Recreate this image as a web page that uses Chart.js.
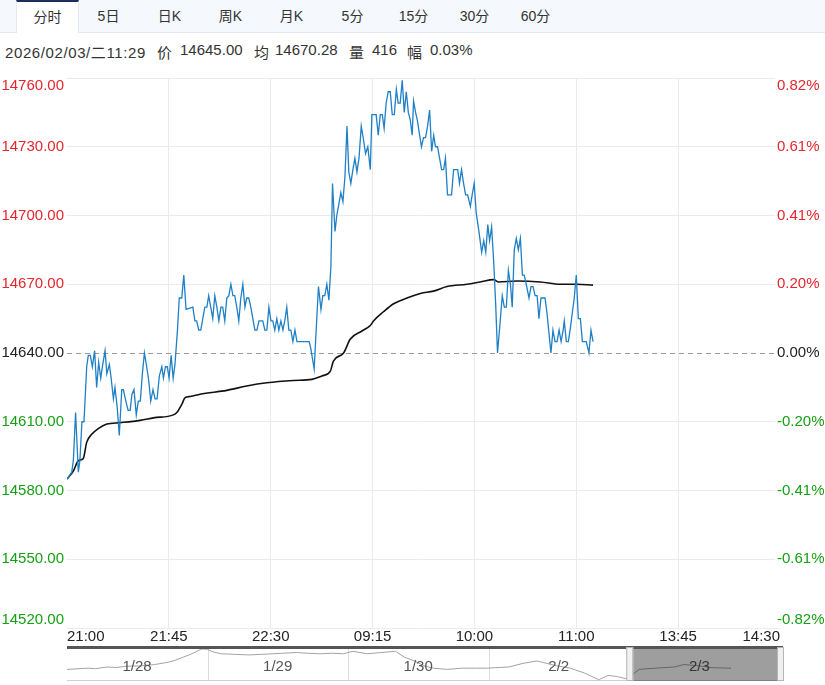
<!DOCTYPE html>
<html>
<head>
<meta charset="utf-8">
<script src="https://cdn.jsdelivr.net/npm/chart.js@4.4.1/dist/chart.umd.min.js"></script>
<style>
  body { margin: 0; width: 825px; height: 685px; overflow: hidden; position: relative; background: #fff;
         font-family: "Liberation Sans", "Noto Sans CJK SC", sans-serif; color: #333; }
  .tabs { position: absolute; left: 0; top: 0; width: 825px; height: 32px; background: #f5f8fc; border-bottom: 1px solid #e3e8ef; }
  .tab { position: absolute; top: 0; width: 61px; height: 32px; line-height: 33px; text-align: center; font-size: 14px; color: #333; }
  .tab.on { background: #fff; border-top: 2px solid #1b2f5f; border-left: 1px solid #e3e8ef; border-right: 1px solid #e3e8ef;
            height: 31px; line-height: 31px; margin-left: -1px; }
  .info span { position: absolute; top: 41px; font-size: 15px; white-space: pre; color: #333; }
  .info span:first-child { letter-spacing: 0.6px; }
  #main { position: absolute; left: 0; top: 70px; }
  #nav { position: absolute; left: 0; top: 640px; }
</style>
</head>
<body>
<div class="tabs" id="tabs"></div>
<div class="info" id="info"></div>
<canvas id="main" width="825" height="575"></canvas>
<canvas id="nav" width="825" height="45"></canvas>
<script>
const tabNames = ['分时', '5日', '日K', '周K', '月K', '5分', '15分', '30分', '60分'];
const infoParts = ['2026/02/03/二11:29', '价', '14645.00', '均', '14670.28', '量', '416', '幅', '0.03%'];
const infoLeft = [5, 157, 180, 254, 275, 349, 372, 407, 430];

const timeTicks = [0, 45, 90, 135, 180, 225, 270, 315];
const timeLabels = ['21:00', '21:45', '22:30', '09:15', '10:00', '11:00', '13:45', '14:30'];
const priceTicks = [14520, 14550, 14580, 14610, 14640, 14670, 14700, 14730, 14760];
const pctTicks = ['-0.82%', '-0.61%', '-0.41%', '-0.20%', '0.00%', '0.20%', '0.41%', '0.61%', '0.82%'];
const prevClose = 14640;

// minutes since 21:00 (trading time) and last price
const priceMin = [
  0, 2.1, 2.8, 3.8, 5.0, 5.7, 6.6, 7.5, 8.7, 9.4,
  10.3, 11.2, 12.2, 13.1, 14.0, 14.9, 15.8, 16.8, 17.6, 18.7,
  19.5, 20.5, 21.2, 22.2, 23.1, 24.2, 24.9, 26.0, 27.0, 27.9,
  28.7, 29.6, 30.6, 31.5, 32.4, 33.3, 34.2, 35.2, 36.1, 37.0,
  38.0, 38.9, 39.8, 40.8, 41.9, 42.6, 43.5, 44.3, 45.1, 46.0,
  46.9, 47.7, 48.8, 49.6, 50.7, 51.6, 52.6, 55.6, 56.5, 57.3,
  58.2, 59.1, 60.0, 60.9, 61.8, 62.6, 63.5, 64.4, 65.3, 66.2,
  67.1, 68.0, 68.8, 69.7, 70.6, 71.5, 72.4, 73.3, 74.1, 75.0,
  75.9, 76.8, 77.7, 78.6, 79.4, 80.3, 81.2, 82.1, 83.0, 83.9,
  84.8, 85.6, 86.5, 87.4, 88.3, 89.2, 90.1, 90.9, 91.8, 92.7,
  93.6, 94.5, 95.4, 96.2, 97.1, 98.0, 98.9, 99.8, 100.7, 101.6,
  107.0, 107.7, 109.2, 110.4, 111.1, 112.2, 113.0, 113.9, 114.8, 115.7,
  116.6, 117.3, 118.4, 119.2, 120.1, 121.0, 121.9, 122.8, 123.7, 124.5,
  125.4, 126.3, 127.2, 128.1, 129.0, 130.0, 131.0, 131.9, 132.9, 134.0,
  134.7, 135.7, 136.6, 137.5, 138.4, 139.3, 140.1, 141.0, 141.9, 142.8,
  143.7, 144.6, 145.5, 146.3, 147.2, 148.1, 149.0, 149.9, 150.8, 151.6,
  152.5, 153.1, 154.0, 154.9, 155.8, 156.6, 157.5, 158.4, 159.3, 160.2,
  161.1, 162.0, 162.8, 163.7, 164.6, 165.5, 166.4, 167.2, 168.1, 169.0,
  169.9, 170.8, 171.7, 172.6, 173.4, 174.3, 175.2, 176.1, 177.0, 178.2,
  179.0, 179.9, 180.8, 182.0, 183.2, 184.1, 185.0, 185.9, 186.7, 187.6,
  188.5, 189.4, 190.2, 191.4, 192.3, 193.2, 194.1, 195.0, 195.9, 196.7,
  197.6, 198.5, 199.4, 200.3, 201.2, 202.0, 202.9, 204.1, 205.0, 205.9,
  206.8, 207.7, 208.5, 209.4, 210.3, 211.2, 212.1, 213.0, 213.8, 214.7,
  215.6, 216.5, 217.4, 218.3, 219.2, 219.7, 220.6, 221.5, 222.4, 223.3,
  224.1, 225.0, 225.9, 226.8, 227.7, 228.6, 229.4, 230.6, 231.5, 232.4
];
const priceVal = [
  14585, 14588, 14593, 14614, 14588, 14593, 14610, 14610, 14634, 14639,
  14639, 14634, 14641, 14625, 14636, 14629, 14635, 14641, 14631, 14635,
  14629, 14620, 14625, 14616, 14604, 14624, 14624, 14619, 14615, 14615,
  14622, 14624, 14613, 14619, 14619, 14631, 14640, 14634, 14628, 14619,
  14624, 14620, 14620, 14630, 14634, 14629, 14634, 14634, 14629, 14639,
  14629, 14635, 14650, 14664, 14664, 14674, 14659, 14660, 14654, 14654,
  14650, 14650, 14655, 14660, 14660, 14665, 14660, 14655, 14665, 14660,
  14654, 14660, 14660, 14654, 14664, 14665, 14670, 14665, 14665, 14660,
  14654, 14664, 14670, 14660, 14664, 14664, 14660, 14655, 14650, 14650,
  14654, 14654, 14654, 14650, 14650, 14660, 14654, 14654, 14650, 14655,
  14650, 14654, 14650, 14654, 14660, 14650, 14650, 14645, 14650, 14645,
  14645, 14642, 14633, 14656, 14669, 14659, 14665, 14665, 14670, 14663,
  14678, 14714, 14693, 14700, 14705, 14710, 14706, 14717, 14739, 14719,
  14714, 14720, 14725, 14719, 14725, 14739, 14733, 14727, 14730, 14720,
  14744, 14744, 14744, 14735, 14744, 14744, 14738, 14749, 14754, 14754,
  14744, 14744, 14755, 14749, 14749, 14759, 14745, 14754, 14745, 14742,
  14735, 14750, 14745, 14741, 14735, 14730, 14734, 14734, 14739, 14746,
  14728, 14735, 14730, 14730, 14725, 14720, 14720, 14725, 14709, 14709,
  14709, 14720, 14720, 14720, 14714, 14720, 14714, 14709, 14709, 14704,
  14709, 14714, 14701, 14693, 14684, 14689, 14684, 14696, 14689, 14695,
  14680, 14661, 14640, 14654, 14665, 14660, 14660, 14676, 14670, 14660,
  14685, 14690, 14685, 14690, 14674, 14674, 14670, 14664, 14669, 14669,
  14665, 14665, 14655, 14664, 14664, 14664, 14657, 14648, 14640, 14650,
  14645, 14645, 14650, 14645, 14650, 14654, 14645, 14645, 14651, 14658,
  14664, 14674, 14655, 14655, 14645, 14645, 14645, 14640, 14650, 14645
];

// average price line
const avgMin = [0, 2.8, 5.0, 7.2, 8.7, 10.9, 13.8, 17.6, 23.4, 32.3, 38.2, 47.0, 48.5, 50.7, 52.2, 54.4, 58.8, 70.6,
  79.4, 88.3, 100.0, 108.2, 112.6, 116.3, 117.7, 122.2, 125.1, 130.3, 134.0, 135.4, 139.8, 144.3, 150.2,
  156.1, 161.9, 167.9, 176.7, 182.6, 188.5, 190.7, 198.8, 209.1, 217.9, 225.3, 232.4];
const avgVal = [14585, 14588.5, 14593, 14594, 14601, 14604.5, 14607, 14609, 14609.6, 14610.6, 14611.7, 14613, 14614,
  14617.6, 14620.5, 14621, 14622, 14623.7, 14625.6, 14627, 14628, 14628.5, 14630, 14632, 14636.5, 14640, 14646,
  14649.6, 14652, 14654, 14658, 14661.5, 14664, 14666, 14667, 14669, 14670, 14671, 14672, 14671, 14671.4, 14671,
  14670, 14670, 14669.6];

// navigator: five sessions, 345 trading minutes each
const navDays = ['1/28', '1/29', '1/30', '2/2', '2/3'];
const navMin = [0, 52, 70, 99, 120, 145, 180, 215, 249, 265, 284, 300, 319, 331, 345, 354, 377, 410, 447, 480,
  505, 530, 563, 590, 621, 650, 679, 690, 702, 737, 771, 806, 829, 853, 876, 899, 934, 969, 1003, 1032,
  1050, 1085, 1119, 1154, 1177, 1201, 1235, 1270, 1305, 1328, 1351, 1375, 1404, 1444, 1491, 1514, 1549, 1583, 1630];
const navVal = [14572, 14616, 14600, 14660, 14640, 14686, 14700, 14748, 14835, 14900, 15010, 15100, 15229, 15316, 15299, 15229, 15141, 15120, 15098, 15120,
  15141, 15160, 15185, 15160, 15141, 15160, 15141, 15185, 15229, 15141, 15185, 15229, 15010, 14879, 14704, 14616, 14572, 14616, 14616, 14616,
  14634, 14660, 14791, 14879, 14791, 14704, 14616, 14441, 14196, 14354, 14310, 14222, 14572, 14616, 14660, 14748, 14704, 14634, 14616];

const FONT = '"Liberation Sans", "Noto Sans CJK SC", sans-serif';
const RED = '#e3262d', GREEN = '#16a016';

const tabs = document.getElementById('tabs');
tabNames.forEach((t, i) => {
  const d = document.createElement('div');
  d.className = 'tab' + (i === 0 ? ' on' : '');
  d.style.left = (17 + i * 61) + 'px';
  d.textContent = t;
  tabs.appendChild(d);
});
const info = document.getElementById('info');
infoParts.forEach((t, i) => {
  const s = document.createElement('span');
  s.style.left = infoLeft[i] + 'px';
  s.textContent = t;
  info.appendChild(s);
});

const axisLabels = {
  id: 'axisLabels',
  beforeDatasetsDraw(chart) {
    const { ctx, chartArea, scales: { y } } = chart;
    const yp = Math.round(y.getPixelForValue(prevClose)) + 0.5;
    ctx.save();
    ctx.strokeStyle = '#9a9a9a';
    ctx.lineWidth = 1;
    ctx.setLineDash([5, 4]);
    ctx.beginPath();
    ctx.moveTo(chartArea.left, yp);
    ctx.lineTo(chartArea.right - 5, yp);
    ctx.stroke();
    ctx.restore();
  },
  afterDraw(chart) {
    const { ctx, chartArea, scales: { y } } = chart;
    ctx.save();
    ctx.fillStyle = '#fff';
    ctx.fillRect(chartArea.right - 5, chartArea.top - 8, chart.width, chartArea.bottom - chartArea.top + 8);
    ctx.font = '15px ' + FONT;
    ctx.textBaseline = 'middle';
    priceTicks.forEach((v, i) => {
      let py = y.getPixelForValue(v);
      py = Math.max(chartArea.top + 8, Math.min(chartArea.bottom - 8.5, py));
      ctx.fillStyle = v > prevClose ? RED : (v < prevClose ? GREEN : '#222');
      ctx.textAlign = 'right';
      ctx.fillText(v.toFixed(2), y.right - 3, py);
      ctx.textAlign = 'left';
      ctx.fillText(pctTicks[i], chartArea.right - 3, py);
    });
    ctx.restore();
  }
};

new Chart(document.getElementById('main'), {
  type: 'line',
  data: {
    datasets: [
      {
        data: priceMin.map((m, i) => ({ x: m, y: priceVal[i] })),
        borderColor: '#1f80c6',
        borderWidth: 1.3,
        pointRadius: 0,
        tension: 0
      },
      {
        data: avgMin.map((m, i) => ({ x: m, y: avgVal[i] })),
        borderColor: '#111',
        borderWidth: 1.6,
        pointRadius: 0,
        cubicInterpolationMode: 'monotone'
      }
    ]
  },
  options: {
    responsive: false,
    animation: false,
    layout: { padding: { top: 8 } },
    plugins: { legend: { display: false }, tooltip: { enabled: false } },
    scales: {
      x: {
        type: 'linear',
        min: 0,
        max: 315,
        afterBuildTicks: (s) => { s.ticks = timeTicks.map(v => ({ value: v })); },
        ticks: {
          align: 'inner',
          autoSkip: false,
          maxRotation: 0,
          padding: 0,
          color: '#222',
          font: { size: 15, family: FONT },
          callback: (v) => timeLabels[timeTicks.indexOf(v)]
        },
        grid: {
          drawTicks: false,
          color: (c) => (c.index === 0 || c.index === timeTicks.length - 1) ? 'rgba(0,0,0,0)' : '#ebebeb'
        },
        border: { display: false },
        afterFit: (s) => { s.height = 17; }
      },
      y: {
        position: 'left',
        min: 14520,
        max: 14760,
        afterBuildTicks: (s) => { s.ticks = priceTicks.map(v => ({ value: v })); },
        ticks: { display: false },
        grid: {
          drawTicks: false,
          color: (c) => c.tick && c.tick.value === prevClose ? 'rgba(0,0,0,0)' : '#ebebeb'
        },
        border: { display: false },
        afterFit: (s) => { s.width = 67; }
      },
      yr: {
        position: 'right',
        min: 14520,
        max: 14760,
        ticks: { display: false },
        grid: { display: false },
        border: { display: false },
        afterFit: (s) => { s.width = 45; }
      }
    }
  },
  plugins: [axisLabels]
});

const navDecor = {
  id: 'navDecor',
  beforeDatasetsDraw(chart) {
    const { ctx, chartArea: a, scales: { x } } = chart;
    ctx.save();
    ctx.strokeStyle = '#dcdcdc';
    ctx.lineWidth = 1;
    for (let d = 1; d < navDays.length; d++) {
      const px = Math.round(x.getPixelForValue(d * 345)) + 0.5;
      ctx.beginPath();
      ctx.moveTo(px, a.top);
      ctx.lineTo(px, a.bottom);
      ctx.stroke();
    }
    ctx.strokeStyle = '#cfcfcf';
    ctx.beginPath();
    ctx.moveTo(a.left, a.bottom - 0.5);
    ctx.lineTo(a.right + 3, a.bottom - 0.5);
    ctx.stroke();
    ctx.restore();
  },
  afterDatasetsDraw(chart) {
    const { ctx, chartArea: a, scales: { x } } = chart;
    ctx.save();
    ctx.font = '15px ' + FONT;
    ctx.fillStyle = '#555';
    ctx.textAlign = 'center';
    ctx.textBaseline = 'middle';
    navDays.forEach((d, i) => {
      ctx.fillText(d, x.getPixelForValue(i * 345 + 172), a.top + 19);
    });
    // selected window (last session)
    const sx = x.getPixelForValue(4 * 345);
    ctx.fillStyle = 'rgba(0,0,0,0.38)';
    ctx.fillRect(sx, a.top, a.right - sx, a.bottom - a.top);
    // top bar
    ctx.fillStyle = '#555';
    ctx.fillRect(a.left, a.top - 2, a.right - a.left + 3, 3);
    // handles
    ctx.fillStyle = '#f0f0f0';
    ctx.strokeStyle = '#b5b5b5';
    [sx - 3, a.right - 3].forEach(hx => {
      ctx.fillRect(hx, a.top - 1, 7, a.bottom - a.top + 1);
      ctx.strokeRect(hx + 0.5, a.top - 0.5, 6, a.bottom - a.top);
    });
    ctx.restore();
  }
};

new Chart(document.getElementById('nav'), {
  type: 'line',
  data: {
    datasets: [{
      data: navMin.map((m, i) => ({ x: m, y: navVal[i] })),
      borderColor: '#a3a3a3',
      borderWidth: 1,
      pointRadius: 0,
      tension: 0
    }]
  },
  options: {
    responsive: false,
    animation: false,
    layout: { padding: { left: 67, right: 45, top: 8, bottom: 4 } },
    plugins: { legend: { display: false }, tooltip: { enabled: false } },
    scales: {
      x: { type: 'linear', min: 0, max: 1750, display: false },
      y: { min: 14150, max: 15350, display: false }
    }
  },
  plugins: [navDecor]
});
</script>
</body>
</html>
